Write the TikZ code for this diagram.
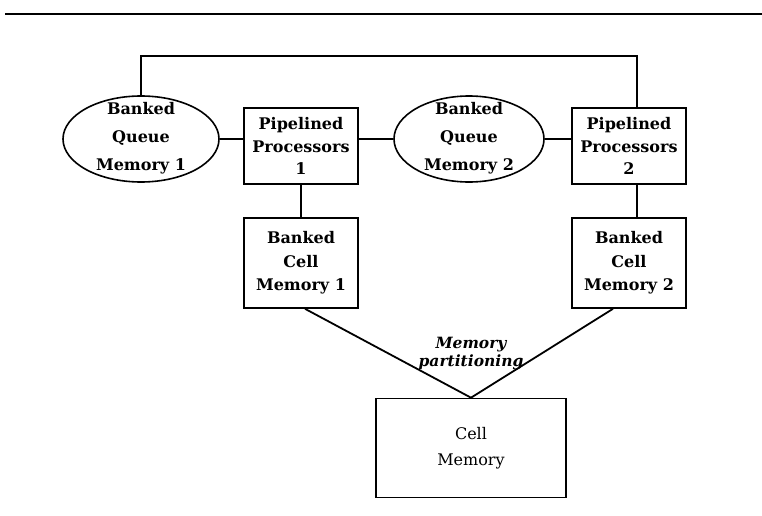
\documentclass[tikz,border=0pt]{standalone}
\usepackage{fontspec}
\setmainfont{DejaVu Serif}
\usetikzlibrary{shapes.geometric}

\tikzset{
  unit/.style={draw, line width=1.6pt, rectangle, minimum width=114pt,
    minimum height=90pt, inner sep=0pt},
  procunit/.style={unit, minimum height=76pt},
  bigunit/.style={unit, minimum width=190pt, minimum height=99pt},
  queue/.style={draw, line width=1.6pt, ellipse, minimum width=156pt,
    minimum height=86pt, inner sep=0pt},
  lbl/.style={align=center, inner sep=0pt,
    font=\fontsize{16pt}{23.5pt}\selectfont\bfseries},
  queuelbl/.style={lbl, font=\fontsize{16pt}{28pt}\selectfont\bfseries},
  proclbl/.style={lbl, font=\fontsize{16pt}{22.5pt}\selectfont\bfseries},
  smalllbl/.style={lbl, font=\fontsize{16pt}{26pt}\selectfont},
  note/.style={align=center, inner sep=0pt,
    font=\fontsize{15.5pt}{18pt}\selectfont\bfseries\itshape},
  wire/.style={line width=1.8pt}
}

\begin{document}
\begin{tikzpicture}[x=1pt, y=-1pt]
  \useasboundingbox (0,0) rectangle (762,516);

  % header rule
  \coordinate (ruleL) at (5,14);
  \coordinate (ruleR) at (762,14);
  \draw[line width=2.4pt] (ruleL) -- (ruleR);

  % upper row: queue memories and processors
  \node[queue] (qm1) at (141,139) {};
  \node[queuelbl] (qm1t) at ([yshift=1pt]qm1.center) {Banked\\Queue\\Memory 1};
  \node[procunit] (pp1) at (301,146) {};
  \node[proclbl] (pp1t) at (pp1.center) {Pipelined\\Processors\\1};
  \node[queue, minimum width=150pt] (qm2) at (469,139) {};
  \node[queuelbl] (qm2t) at ([yshift=1pt]qm2.center) {Banked\\Queue\\Memory 2};
  \node[procunit] (pp2) at (629,146) {};
  \node[proclbl] (pp2t) at (pp2.center) {Pipelined\\Processors\\2};

  % banked cell memories
  \node[unit] (bcm1) at (301,263) {};
  \node[lbl] (bcm1t) at (bcm1.center) {Banked\\Cell\\Memory 1};
  \node[unit] (bcm2) at (629,263) {};
  \node[lbl] (bcm2t) at (bcm2.center) {Banked\\Cell\\Memory 2};

  % shared cell memory
  \node[bigunit] (cm) at (471,448) {};
  \node[smalllbl] (cmt) at (cm.center) {Cell\\Memory};

  % partitioning label
  \node[note] (part) at (471,354) {Memory\\partitioning};

  % connectors
  \coordinate (topR) at ([xshift=8pt]pp2.north |- 0,56);
  \coordinate (pp2top) at ([xshift=8pt]pp2.north);
  \coordinate (pp2bot) at ([xshift=8pt]pp2.south);
  \coordinate (bcm2top) at ([xshift=8pt]bcm2.north);
  \coordinate (bcm2out) at ([xshift=-16pt]bcm2.south);
  \coordinate (bcm1out) at ([xshift=4pt]bcm1.south);
  \draw[wire] (qm1.north) |- (topR) -- (pp2top);
  \draw[wire] (qm1.east) -- (qm1.east -| pp1.west);
  \draw[wire] (qm2.west -| pp1.east) -- (qm2.west);
  \draw[wire] (qm2.east) -- (qm2.east -| pp2.west);
  \draw[wire] (pp1.south) -- (bcm1.north);
  \draw[wire] (pp2bot) -- (bcm2top);
  \draw[wire] (bcm1out) -- (cm.north);
  \draw[wire] (bcm2out) -- (cm.north);
\end{tikzpicture}
\end{document}
